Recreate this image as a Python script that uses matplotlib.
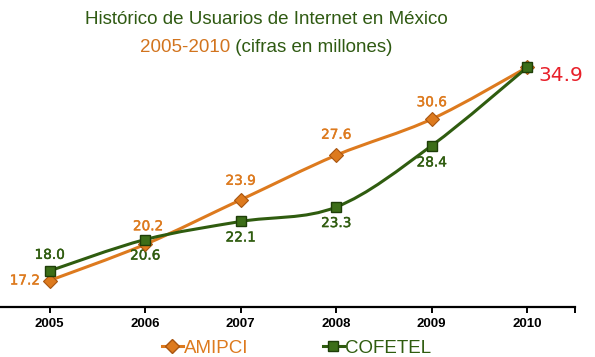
import numpy as np
import matplotlib
matplotlib.use("Agg")
import matplotlib.pyplot as plt
from matplotlib.path import Path
from matplotlib.patches import PathPatch
from matplotlib.lines import Line2D
from matplotlib import font_manager
import matplotlib.patheffects as pe

years = [2005, 2006, 2007, 2008, 2009, 2010]
amipci = [17.2, 20.2, 23.9, 27.6, 30.6, 34.9]
cofetel = [18.0, 20.6, 22.1, 23.3, 28.4, 34.9]

ORANGE = "#DD7A1E"
GREEN = "#2F5C0F"

names = {f.name for f in font_manager.fontManager.ttflist}
TITLE_FONT = "Liberation Sans Narrow" if "Liberation Sans Narrow" in names else "Liberation Sans"
TITLE_SIZE = 16 if TITLE_FONT.endswith("Narrow") else 13.5


def smooth_path(x, y):
    # Catmull-Rom converted to cubic Bezier segments (like Excel's smoothed line)
    x = np.asarray(x, float)
    y = np.asarray(y, float)
    verts = [(x[0], y[0])]
    codes = [Path.MOVETO]
    n = len(x)
    for i in range(n - 1):
        x0, y0 = (x[i - 1], y[i - 1]) if i > 0 else (x[i], y[i])
        x3, y3 = (x[i + 2], y[i + 2]) if i + 2 < n else (x[i + 1], y[i + 1])
        c1 = (x[i] + (x[i + 1] - x0) / 6, y[i] + (y[i + 1] - y0) / 6)
        c2 = (x[i + 1] - (x3 - x[i]) / 6, y[i + 1] - (y3 - y[i]) / 6)
        verts += [c1, c2, (x[i + 1], y[i + 1])]
        codes += [Path.CURVE4] * 3
    return Path(verts, codes)


fig = plt.figure(figsize=(5.95, 3.57), dpi=100)
ax = fig.add_axes([0.0, 1 - 307 / 357, 575 / 595, 265 / 357])

ax.add_patch(PathPatch(smooth_path(years, amipci), fill=False,
                       edgecolor=ORANGE, lw=2.2, zorder=2))
ax.add_patch(PathPatch(smooth_path(years, cofetel), fill=False,
                       edgecolor=GREEN, lw=2.2, zorder=3))
ax.plot(years, amipci, ls="none", marker="D", ms=7.5, color=ORANGE,
        mec="#A85510", mew=0.8, zorder=4)
ax.plot(years, cofetel, ls="none", marker="s", ms=7, color="#3C6E18",
        mec="#1E3E08", mew=1.0, zorder=5)

ax.set_xlim(2004.48, 2010.5)
ax.set_ylim(15, 37)

lab = dict(family="DejaVu Sans", fontsize=9.8)
# AMIPCI labels
a_off = [(-0.26, 0), (0.03, 1.5), (0, 1.58), (0, 1.7), (0, 1.4)]
for x, y, (dx, dy) in zip(years[:-1], amipci[:-1], a_off):
    ax.text(x + dx, y + dy, f"{y:.1f}", color=ORANGE, ha="center",
            va="center", **lab,
            path_effects=[pe.withStroke(linewidth=0.3, foreground=ORANGE)])
# COFETEL labels
c_off = [(0, 1.33), (0, -1.33), (0, -1.33), (0, -1.33), (0, -1.4)]
for x, y, (dx, dy) in zip(years[:-1], cofetel[:-1], c_off):
    ax.text(x + dx, y + dy, f"{y:.1f}", color=GREEN, ha="center",
            va="center", **lab,
            path_effects=[pe.withStroke(linewidth=0.3, foreground=GREEN)])
ax.text(years[-1] + 0.115, amipci[-1] - 0.65, f"{amipci[-1]:.1f}",
        color="#E8202A", ha="left", va="center", family="DejaVu Sans",
        fontsize=14.5)

for s in ["top", "right", "left"]:
    ax.spines[s].set_visible(False)
ax.spines["bottom"].set_linewidth(1.6)
ax.set_yticks([])
ax.set_xticks(years + [2010.5])
ax.set_xticklabels([str(y) for y in years] + [""], fontweight="bold",
                   fontsize=9.5, family="Liberation Sans")
ax.tick_params(axis="x", direction="out", length=4, width=1.4, pad=4)
ax.patch.set_visible(False)

cx = 266 / 595
fig.text(cx, 1 - 20 / 357, "Histórico de Usuarios de Internet en México",
         ha="center", va="center", color="#2F5A12", fontsize=TITLE_SIZE,
         family=TITLE_FONT)

# second title line: two colours, centred as one line
renderer = fig.canvas.get_renderer()
sub_a = fig.text(0, 1 - 47 / 357, "2005-2010", ha="left", va="center",
                 color="#D2741E", fontsize=TITLE_SIZE, family=TITLE_FONT)
sub_b = fig.text(0, 1 - 47 / 357, " (cifras en millones)", ha="left",
                 va="center", color="#2F5A12", fontsize=TITLE_SIZE,
                 family=TITLE_FONT)
wa = sub_a.get_window_extent(renderer).width / fig.bbox.width
wb = sub_b.get_window_extent(renderer).width / fig.bbox.width
start = cx - (wa + wb) / 2
sub_a.set_x(start)
sub_b.set_x(start + wa)

handles = [Line2D([], [], color=ORANGE, marker="D", ms=7, lw=2.2,
                  mec="#A85510"),
           Line2D([], [], color=GREEN, marker="s", ms=6.5, lw=2.2,
                  mfc="#3C6E18", mec="#1E3E08")]
leg = fig.legend(handles, ["AMIPCI", "COFETEL"], loc="center left",
                 bbox_to_anchor=(162 / 595, 1 - 348 / 357), ncol=2,
                 frameon=False, borderpad=0, borderaxespad=0,
                 prop={"family": "Liberation Sans", "size": 13.5},
                 handlelength=1.1, handletextpad=0.05, columnspacing=4.0)
leg.get_texts()[0].set_color(ORANGE)
leg.get_texts()[1].set_color(GREEN)

fig.savefig("out.png", dpi=100)
